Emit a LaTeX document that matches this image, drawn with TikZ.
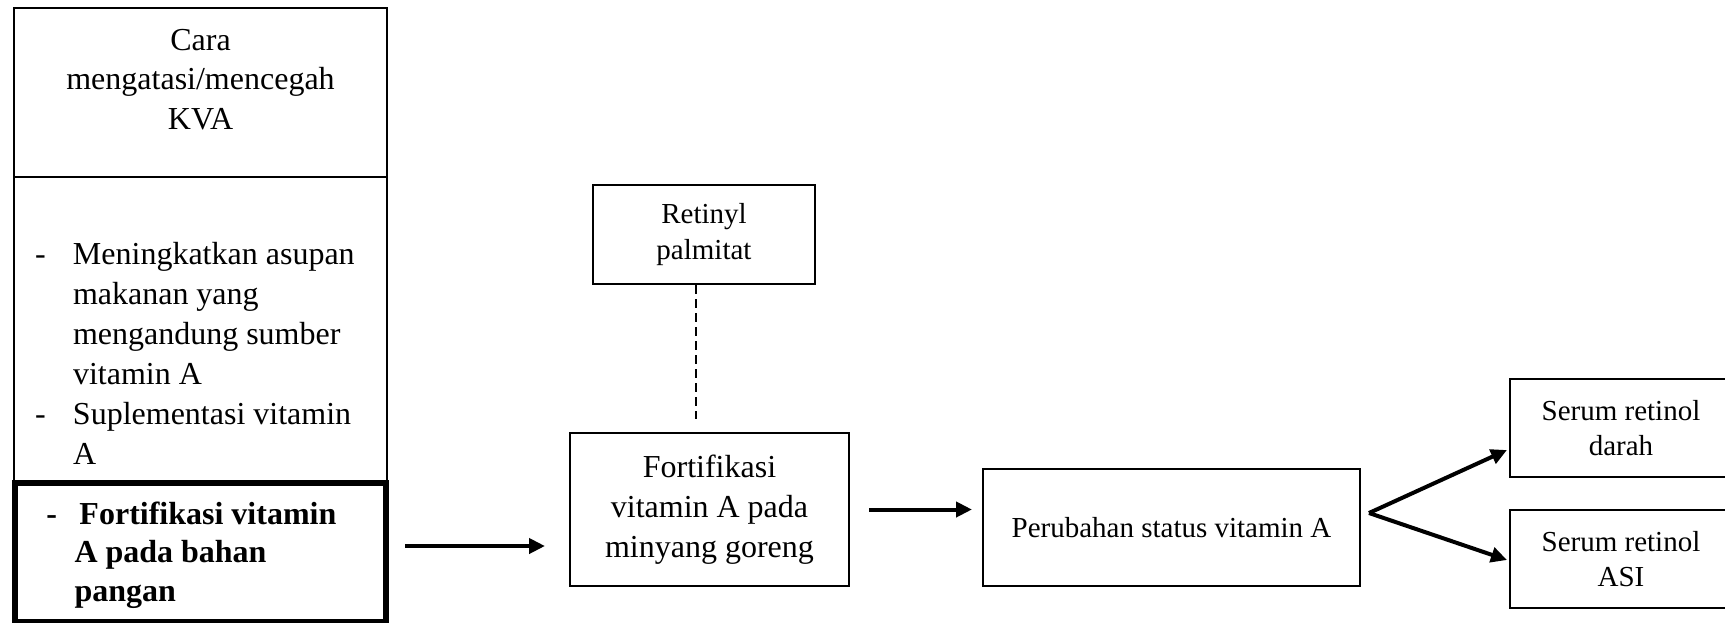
\documentclass[tikz,border=0pt]{standalone}
\usepackage{fontspec}
\setmainfont{Liberation Serif}
\usepackage{array}
\usetikzlibrary{arrows.meta}
\usetikzlibrary{calc}

\begin{document}
\begin{tikzpicture}[x=0.5pt,y=-0.5pt,
  box/.style={draw, line width=1pt, inner sep=0pt, align=center, font=\fontsize{14.5pt}{17.5pt}\selectfont},
  colbox/.style={draw, line width=1pt, inner sep=0pt, anchor=north, minimum width=186.5pt, font=\fontsize{16pt}{20pt}\selectfont},
  boldbox/.style={draw, line width=3pt, inner sep=0pt, anchor=north, minimum width=185.75pt, font=\fontsize{16pt}{19.25pt}\selectfont\bfseries},
  arr/.style={line width=2pt, -{Triangle[length=8pt,width=7.5pt]}},
  dashline/.style={line width=0.9pt, dash pattern=on 4.5pt off 2.5pt}]
\useasboundingbox (0,0) rectangle (1725,622);
% left column
\node[colbox, text height=21pt, text depth=63.5pt, font=\fontsize{16pt}{19.75pt}\selectfont] (cara) at (200.5,7)
  {\begin{tabular}[t]{@{}c@{}}Cara\\mengatasi/mencegah\\KVA\end{tabular}};
\node[colbox, text height=43.5pt, text depth=108.5pt] (upaya) at (200.5,176)
  {\begin{tabular}[t]{@{\hspace{10.5pt}}p{19pt}@{}p{157pt}@{}}
  -&Meningkatkan asupan\\
   &makanan yang\\
   &mengandung sumber\\
   &vitamin A\\
  -&Suplementasi vitamin\\
   &A
  \end{tabular}};
\node[boldbox, text height=20.5pt, text depth=49pt] (bahan) at (200.25,480)
  {\begin{tabular}[t]{@{\hspace{16pt}}p{14pt}@{}p{155.75pt}@{}}
  -&\hspace{2.5pt}Fortifikasi vitamin\\
   &A pada bahan\\
   &pangan
  \end{tabular}};
% middle and right
\node[box, minimum width=111pt, minimum height=49.5pt, font=\fontsize{14.5pt}{18.3pt}\selectfont] (retinyl) at (704,234.5) {Retinyl\\palmitat};
\node[box, minimum width=139.5pt, minimum height=76.5pt, font=\fontsize{16pt}{20pt}\selectfont] (minyak) at (709.5,509.5) {Fortifikasi\\vitamin A pada\\minyang goreng};
\node[box, minimum width=188.5pt, minimum height=58.5pt] (status) at (1171.5,527.5) {Perubahan status vitamin A};
\node[box, minimum width=111pt, minimum height=49pt] (darah) at (1621,428) {Serum retinol\\darah};
\node[box, minimum width=111pt, minimum height=49pt] (asi) at (1621,559) {Serum retinol\\ASI};
% connectors
\draw[dashline] ($(retinyl.south)+(-8,0)$) -- ($(minyak.north)+(-13.5,-13)$);
\coordinate (a1) at ($(minyak.west)+(-24,36.5)$);
\draw[arr] ($(bahan.east |- a1)+(16,0)$) -- (a1);
\coordinate (a2) at ($(minyak.east)+(19,0)$);
\draw[arr] (a2) -- ($(status.west |- a2)+(-10,0)$);
\coordinate (fork) at ($(status.east)+(8,-14.5)$);
\foreach \t/\dy in {darah/22, asi/1}
  \draw[arr] (fork) -- ($(\t.west)+(-2,\dy)$);
\end{tikzpicture}
\end{document}
